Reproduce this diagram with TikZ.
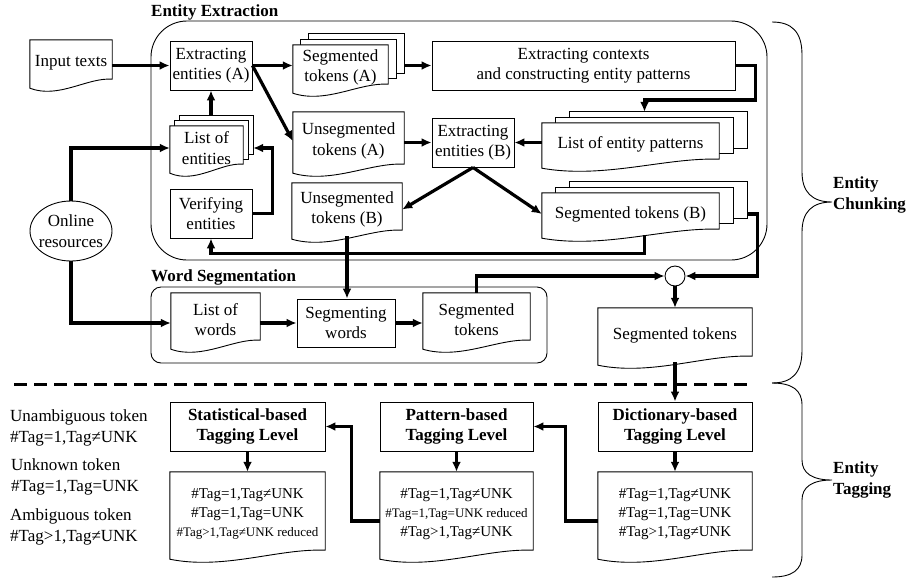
\documentclass[tikz,border=0pt]{standalone}
\usepackage{fontspec}
\setmainfont{Liberation Serif}
\usetikzlibrary{arrows.meta,calc,backgrounds}

% outline of a document sheet with a wavy bottom, drawn round node #1
\newcommand{\docshape}[1]{%
  \path[sheet] (#1.north west) -- (#1.north east) -- ($(#1.south east)+(0,-6)$)
    .. controls ($(#1.south west)!.7!(#1.south east)+(0,-8)$) and ($(#1.south west)!.35!(#1.south east)+(0,14)$)
    .. ($(#1.south west)+(0,3)$) -- cycle;}
% stack of sheets: two back sheets shifted by (#2,#3), then the front one
\newcommand{\multidoc}[3]{%
  \path[sheet] ($(#1.north west)+(2*#2,-2*#3)$) rectangle ($(#1.south east)+(2*#2,-6-2*#3)$);
  \path[sheet] ($(#1.north west)+(#2,-#3)$) rectangle ($(#1.south east)+(#2,-6-#3)$);
  \docshape{#1}}

\begin{document}
\begin{tikzpicture}[x=1pt,y=-1pt,>={Latex[length=10pt,width=9pt]},
  font=\fontsize{17}{20.5}\selectfont,
  sheet/.style={draw,fill=white,line width=0.9pt},
  proc/.style={draw,line width=0.9pt,align=center,inner sep=0pt,minimum height=49},
  doc/.style={align=center,inner sep=0pt},
  lvl/.style={proc,font=\fontsize{17}{20.5}\selectfont\bfseries},
  title/.style={font=\fontsize{17}{20.5}\selectfont\bfseries,inner sep=0pt,align=left},
  tagtxt/.style={font=\fontsize{15}{19}\selectfont},
  conn/.style={->,line width=3.2pt}]
  \useasboundingbox (0,0) rectangle (909,579);

  % entity extraction
  \node[title,anchor=west] (eetitle) at (151,12) {Entity Extraction};
  \node[doc,minimum width=82,minimum height=45] (inp) at (71,62.5) {Input texts};
  \node[proc,minimum width=82] (exA) at (211,65.5) {Extracting\\entities (A)};
  \node[doc,minimum width=95,minimum height=45] (segA) at (340.5,67.5) {Segmented\\tokens (A)};
  \node[proc,minimum width=303] (ctx) at (583.5,65.5) {Extracting contexts\\and constructing entity patterns};
  \node[doc,minimum width=111,minimum height=58] (unA) at (348.5,141) {Unsegmented\\tokens (A)};
  \node[proc,minimum width=82] (exB) at (473,142.5) {Extracting\\entities (B)};
  \node[doc,minimum width=177,minimum height=42] (lep) at (630.5,144) {List of entity patterns};
  \node[doc,minimum width=73,minimum height=44] (loe) at (206.5,148) {List of\\entities};
  \node[proc,minimum width=82] (ver) at (211,213.5) {Verifying\\entities};
  \node[doc,minimum width=110,minimum height=53] (unB) at (347,209.5) {Unsegmented\\tokens (B)};
  \node[doc,minimum width=177,minimum height=42] (segB) at (630.5,214) {Segmented tokens (B)};
  \node[doc,minimum width=82,minimum height=60] (onl) at (71,231) {Online\\resources};

  % word segmentation
  \node[title,anchor=west] (wstitle) at (151,277) {Word Segmentation};
  \node[doc,minimum width=89,minimum height=53] (low) at (215.5,319.5) {List of\\words};
  \node[proc,minimum width=98,minimum height=48] (segw) at (346,323) {Segmenting\\words};
  \node[doc,minimum width=107,minimum height=53] (segt) at (476.5,319.5) {Segmented\\tokens};
  \node[draw,circle,line width=0.9pt,minimum size=20,inner sep=0pt] (mrg) at (675,276) {};
  \node[doc,minimum width=154,minimum height=54] (fin) at (675,335) {Segmented tokens};

  % entity tagging
  \node[lvl,minimum width=154] (dict) at (675,426.5) {Dictionary-based\\Tagging Level};
  \node[lvl,minimum width=153] (pat) at (456.5,426.5) {Pattern-based\\Tagging Level};
  \node[lvl,minimum width=155] (stat) at (247.5,426.5) {Statistical-based\\Tagging Level};
  \node[doc,tagtxt,minimum width=154,minimum height=84] (dictdoc) at (675,514)
    {\#Tag=1,Tag≠UNK\\\#Tag=1,Tag=UNK\\\#Tag>1,Tag≠UNK};
  \node[doc,tagtxt,minimum width=153,minimum height=84] (patdoc) at (456.5,514)
    {\#Tag=1,Tag≠UNK\\\fontsize{13}{18}\selectfont\#Tag=1,Tag=UNK reduced\\\fontsize{15}{19}\selectfont\#Tag>1,Tag≠UNK};
  \node[doc,tagtxt,minimum width=155,minimum height=84] (statdoc) at (247.5,514)
    {\#Tag=1,Tag≠UNK\\\#Tag=1,Tag=UNK\\\fontsize{13}{18}\selectfont\#Tag>1,Tag≠UNK reduced};
  \node[anchor=west,align=left,inner sep=0pt] (leg1) at (10,428) {Unambiguous token\\\#Tag=1,Tag≠UNK};
  \node[anchor=west,align=left,inner sep=0pt] (leg2) at (11,477) {Unknown token\\\#Tag=1,Tag=UNK};
  \node[anchor=west,align=left,inner sep=0pt] (leg3) at (10,527) {Ambiguous token\\\#Tag>1,Tag≠UNK};

  \node[title,anchor=west] (chunk) at (833,195) {Entity\\Chunking};
  \node[title,anchor=west] (tagg) at (833,480) {Entity\\Tagging};

  \begin{scope}[on background layer]
    \draw[line width=0.9pt,rounded corners=36] (151,21) rectangle (767,260);
    \draw[line width=0.9pt,rounded corners=10] (151,287) rectangle (547,363);
    \docshape{inp} \multidoc{segA}{8}{5.5} \docshape{unA} \multidoc{lep}{14}{5.5}
    \multidoc{loe}{5}{5} \docshape{unB} \multidoc{segB}{14}{5.5}
    \docshape{low} \docshape{segt} \docshape{fin}
    \docshape{dictdoc} \docshape{patdoc} \docshape{statdoc}
    \draw[line width=0.9pt] (onl.center) ellipse [x radius=41,y radius=30];
  \end{scope}

  % connectors
  \draw[conn] (inp.east |- exA.west) -- (exA.west);
  \draw[conn] (exA.east) -- (exA.east -| segA.west);
  \draw[conn] ($(segA.east |- ctx.west)+(16,0)$) -- (ctx.west);
  \draw[conn] (ctx.east) -- ++(20,0) -- ++(0,34.5) -| ($(lep.north)+(14,-11)$);
  \draw[conn] (exA.east) -- (unA.west);
  \draw[conn] (unA.east |- exB.west) -- (exB.west);
  \draw[conn] (lep.west |- exB.east) -- (exB.east);
  \draw[conn] (exB.south) -- (unB.east);
  \draw[conn] (exB.south) -- (segB.west);
  \draw[conn] (unB.south) -- (unB.south |- segw.north);
  \draw[conn] ($(segB.south)+(14,0)$) -- ++(0,18) -| (ver.south);
  \draw[conn] (ver.east) -- ++(20,0) |- ($(loe.east)+(10,0)$);
  \draw[conn] ($(exA.south |- loe.north)+(0,-10)$) -- (exA.south);
  \draw[conn] (onl.north) |- (loe.west);
  \draw[conn] (onl.south) |- (segw.west -| low.west);
  \draw[conn] (low.east |- segw.west) -- (segw.west);
  \draw[conn] (segw.east) -- (segw.east -| segt.west);
  \draw[conn] (segt.north) |- (mrg.west);
  \draw[conn] ($(segB.east)+(28,0)$) -- ++(10,0) |- (mrg.east);
  \draw[conn] (mrg.south) -- (fin.north);
  \draw[conn] (fin.south) -- (dict.north);
  \draw[conn] (dict.south) -- (dictdoc.north);
  \draw[conn] (pat.south) -- (patdoc.north);
  \draw[conn] (stat.south) -- (statdoc.north);
  \draw[conn] ($(dictdoc.west)+(0,7)$) -- ++(-32,0) |- (pat.east);
  \draw[conn] ($(patdoc.west)+(0,7)$) -- ++(-28,0) |- (stat.east);

  % separator and braces
  \draw[line width=3pt,dash pattern=on 13pt off 7pt] (14,384) -- (752,384);
  \draw[line width=0.9pt] (772,22) .. controls (792,22) and (802,32) .. (802,55) -- (802,172)
    .. controls (802,192) and (812,202) .. (832,202) .. controls (812,202) and (802,212) .. (802,232)
    -- (802,350) .. controls (802,373) and (792,383) .. (772,383);
  \draw[line width=0.9pt] (772,383) .. controls (792,383) and (802,390) .. (802,405) -- (802,460)
    .. controls (802,473) and (812,480) .. (832,480) .. controls (812,480) and (802,487) .. (802,500)
    -- (802,555) .. controls (802,570) and (792,577) .. (772,577);
\end{tikzpicture}
\end{document}
